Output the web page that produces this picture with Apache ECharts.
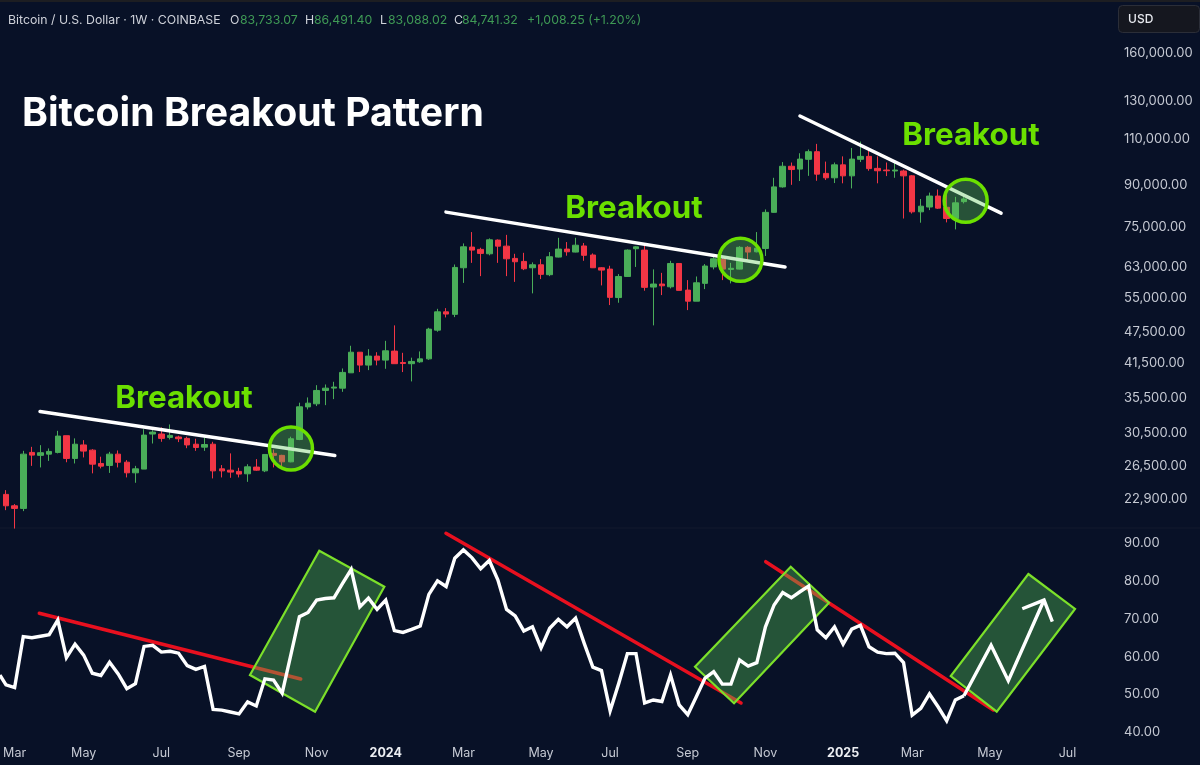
<!DOCTYPE html>
<html>
<head>
<meta charset="utf-8">
<title>Bitcoin Breakout Pattern</title>
<script src="https://cdn.jsdelivr.net/npm/echarts@6/dist/echarts.min.js"></script>
<style>
html, body { margin: 0; padding: 0; background: #081127; }
#chart { width: 1200px; height: 765px; }
</style>
</head>
<body>
<div id="chart"></div>
<script>
// weekly candles, one row per week: open, close, low, high
var candles = [
[23386,22252,21834,23823],[22252,22000,20150,22418],[22000,27870,21740,28275],[28080,27750,26480,28770],
[27720,28040,26300,28980],[27870,28200,27060,28570],[28080,30150,27960,30850],[30200,27350,26900,30200],
[27350,29100,26760,29850],[29010,28240,27470,29620],[28360,26680,25630,28480],[26760,26450,26190,27560],
[26530,27870,25680,28150],[27870,26900,26300,28320],[26910,25690,25180,27150],[25690,26140,24600,26480],
[26110,30280,26110,31070],[30420,30680,29190,30940],[30420,29850,29410,31310],[29980,30240,29710,31720],
[30030,29800,29370,30200],[29850,29010,28600,30070],[29100,28690,28270,29800],[28730,29060,28270,29980],
[29100,25910,25070,29410],[26140,25910,25180,26570],[25990,25770,25140,27960],[25850,25550,25180,26260],
[25580,26370,24700,26670],[26340,25990,25910,27270],[25910,27830,25770,27870],[27960,27720,26300,28440],
[27720,26950,26300,27790],[26950,29800,26900,30070],[29710,34250,29620,34870],[34240,34800,33860,35680],
[34700,36780,34360,37640],[36780,37150,34500,37750],[37160,37330,35420,38200],[37150,39790,36560,40480],
[39720,43450,39720,44690],[43450,41080,39850,43450],[41080,42720,40190,44030],[42720,41980,41030,43450],
[41980,43720,40420,45660],[43660,41330,41330,48840],[41550,41370,39850,43340],[41330,41740,38260,42430],
[41670,42210,41490,43600],[42210,48050,42030,48330],[47840,51810,47500,52490],[51810,51310,50560,52650],
[51240,62870,50630,63680],[62780,68780,58770,69800],[68700,67800,64130,73340],[68010,66830,60530,68500],
[66720,70910,66270,71350],[70820,68980,64130,71040],[68980,65280,60530,72450],[65390,64440,59030,66720],
[64540,62500,62140,67000],[62780,63600,56150,64260],[63600,61000,59750,65190],[60910,65860,60530,67220],
[65770,68100,65680,71530],[68100,67300,66160,70220],[67220,69260,67130,71530],[69030,66280,64710,69940],
[66370,62780,62700,66830],[62780,62140,58130,62930],[62410,55180,53360,63330],[55130,60440,53900,61070],
[60440,67800,60440,68000],[68200,68780,63000,68980],[67800,57640,56800,69800],[57710,58480,48840,62330],
[58480,58030,55730,61400],[57780,63960,57370,64710],[63960,56890,56890,63960],[56950,54270,52200,59490],
[54270,58800,54270,60440],[58650,63250,57200,63790],[63000,65280,62330,66090],[65100,62410,59490,65860],
[62330,62630,58650,64130],[62410,68620,62330,68980],[68620,67220,64910,68980],[67300,68370,67130,73340],
[68260,79920,66090,80950],[79920,89300,79800,92900],[89300,97700,89000,99500],[97700,96300,90100,99300],
[96500,100800,91600,103400],[100700,104100,93700,105100],[104100,94400,91700,107700],[94700,92900,92000,99700],
[92900,98300,90800,99300],[98300,93700,90700,102000],[93700,100800,88700,105800],[100700,102000,99500,108800],
[102000,96700,95800,105100],[96800,95800,90700,102000],[96100,95800,93600,99300],[95700,96100,92900,99300],
[95700,93700,77800,96300],[93700,80100,79500,94000],[80100,82100,76400,84700],[81800,85800,80700,87100],
[85800,81400,81100,88300],[81700,77800,76500,87400],[77800,83300,74200,85500],[83733,84741,83088,86491]
];

// RSI per week, same order as candles
var rsiValues = [
52.5,51.8,65.3,65.0,65.4,65.8,69.7,59.7,63.3,60.4,55.6,55.0,58.5,55.4,51.5,52.8,
62.7,63.0,61.2,61.4,60.9,57.6,56.6,57.4,46.0,45.8,45.3,44.8,48.0,46.9,54.1,53.8,
50.3,60.4,70.6,71.7,75.0,75.4,75.6,79.4,83.1,73.2,75.5,72.5,75.0,66.9,66.4,67.2,
68.1,76.5,80.1,78.6,86.1,88.3,86.2,83.3,85.5,80.3,72.5,70.8,66.8,67.9,62.3,67.5,
69.9,67.9,70.2,63.5,57.2,56.3,45.6,52.9,60.8,60.8,47.7,48.5,48.1,55.1,47.2,44.6,
49.4,54.3,56.0,52.7,52.7,59.1,57.5,58.4,67.9,73.7,77.0,75.6,77.2,78.7,67.1,65.0,
67.9,63.3,67.3,68.3,62.6,61.2,60.8,60.9,58.4,44.5,46.3,50.1,46.7,43.0,48.5,49.6
];

var priceTicks = [160000,130000,110000,90000,75000,63000,55000,47500,41500,35500,30500,26500,22900];
var rsiTicks = [40,50,60,70,80,90];
var dateTickWeeks = [1,9,18,27,36,44,53,62,70,79,88,97,105,114,123];
var dateTickNames = ['Mar','May','Jul','Sep','Nov','2024','Mar','May','Jul','Sep','Nov','2025','Mar','May','Jul'];

// drawn annotations, as [week, price] or [week, rsi]
var priceTrends = [
  [[3.94,33570],[38.1,27710]],
  [[50.98,80000],[90.27,62960]],
  [[92.0,121600],[115.3,79640]]
];
var breakoutCircles = [[33.02,28570],[85.1,65000],[111.2,84050]];
var rsiTrends = [
  [[3.86,71.49],[34.15,54.06]],
  [[50.98,92.71],[85.17,47.69]],
  [[88.03,85.17],[114.4,45.84]]
];
var rsiBoxes = [
  [[36.30,88.09],[43.84,78.54],[35.81,45.38],[28.27,55.12]],
  [[90.93,83.85],[95.36,74.30],[84.36,47.61],[79.84,57.32]],
  [[118.46,81.91],[123.87,72.63],[114.80,45.38],[109.47,54.85]]
];
var rsiProjection = [[111,49.6],[114.14,63.0],[116.14,53.6],[120.28,75.0]];
var arrowHead = [[117.76,72.7],[120.28,75.0],[121.24,69.26]];
var rsiLead = [-0.7,55.1];

var headerItems = [
  {x: 8, label: 'Bitcoin / U.S. Dollar · 1W · COINBASE', green: false},
  {x: 230, label: 'O', green: false},
  {x: 240, label: '83,733.07', green: true},
  {x: 305, label: 'H', green: false},
  {x: 314, label: '86,491.40', green: true},
  {x: 380, label: 'L', green: false},
  {x: 388, label: '83,088.02', green: true},
  {x: 454, label: 'C', green: false},
  {x: 462, label: '84,741.32', green: true},
  {x: 527, label: '+1,008.25 (+1.20%)', green: true}
];
var breakoutLabels = [[184,399],[634,209],[971,136]];

var weekMin = -0.695, weekMax = 128.85;
var FONT = 'Inter';
var upColor = '#4aad59', downColor = '#f23645', limeColor = '#6be000';

var myChart = echarts.init(document.getElementById('chart'));

var candleData = candles.map(function (c, i) { return [i, c[0], c[1], c[2], c[3]]; });
var rsiData = [rsiLead].concat(rsiValues.map(function (v, i) { return [i, v]; }));

var graphics = [
  {type: 'rect', shape: {x: 0, y: 0, width: 1200, height: 2}, style: {fill: '#1d1e22'}},
  {type: 'rect', shape: {x: 0, y: 527.5, width: 1200, height: 1}, style: {fill: '#121a2e'}},
  {type: 'rect', shape: {x: 1118.5, y: 5.5, width: 81, height: 27, r: 4}, style: {fill: '#15171f', stroke: '#2b2e38', lineWidth: 1}},
  {type: 'text', x: 1128, y: 19, style: {text: 'USD', fill: '#e6e8ee', font: '500 12px ' + FONT, textVerticalAlign: 'middle'}},
  {type: 'text', x: 22, y: 114.5, style: {text: 'Bitcoin Breakout Pattern', fill: '#ffffff', font: '700 39.2px ' + FONT, textVerticalAlign: 'middle'}}
];
headerItems.forEach(function (h) {
  graphics.push({type: 'text', x: h.x, y: 20, style: {text: h.label, fill: h.green ? '#3f9a55' : '#cfd2da', font: '400 12.3px ' + FONT, textVerticalAlign: 'middle'}});
});
breakoutLabels.forEach(function (b) {
  graphics.push({type: 'text', x: b[0], y: b[1], style: {text: 'Breakout', fill: limeColor, font: '700 31.3px ' + FONT, textAlign: 'center', textVerticalAlign: 'middle'}});
});

var series = [{
  type: 'candlestick',
  xAxisIndex: 0,
  yAxisIndex: 0,
  data: candleData,
  barWidth: 6,
  encode: {x: 0, y: [1, 2, 3, 4]},
  itemStyle: {color: upColor, color0: downColor, borderColor: upColor, borderColor0: downColor, borderWidth: 1},
  z: 2
}];
priceTrends.forEach(function (t) {
  series.push({type: 'line', xAxisIndex: 0, yAxisIndex: 0, data: t, symbol: 'none', lineStyle: {color: '#ffffff', width: 3.5, cap: 'round'}, z: 3});
});
series.push({
  type: 'scatter', xAxisIndex: 0, yAxisIndex: 0, data: breakoutCircles, symbol: 'circle', symbolSize: 43,
  itemStyle: {color: 'rgba(95,200,90,0.36)', borderColor: limeColor, borderWidth: 3.5, opacity: 1}, z: 4
});
rsiTrends.forEach(function (t) {
  series.push({type: 'line', xAxisIndex: 1, yAxisIndex: 1, data: t, symbol: 'none', lineStyle: {color: '#e8101f', width: 3.5, cap: 'round'}, z: 2});
});
series.push({
  type: 'custom', xAxisIndex: 1, yAxisIndex: 1, clip: false, z: 3,
  data: rsiBoxes.map(function (b, i) { return [b[0][0], b[0][1], i]; }),
  renderItem: function (params, api) {
    var box = rsiBoxes[api.value(2)];
    return {
      type: 'polygon',
      shape: {points: box.map(function (p) { return api.coord(p); })},
      style: {fill: 'rgba(88,195,85,0.38)', stroke: '#7ce02a', lineWidth: 2.2}
    };
  }
});
[rsiData, rsiProjection, arrowHead].forEach(function (d) {
  series.push({type: 'line', xAxisIndex: 1, yAxisIndex: 1, data: d, symbol: 'none', lineStyle: {color: '#ffffff', width: 3.4, join: 'miter'}, z: 4});
});

var option = {
  animation: false,
  backgroundColor: '#081127',
  textStyle: {fontFamily: FONT},
  graphic: {elements: graphics},
  grid: [
    {left: 0, right: 82, top: 0, height: 528},
    {left: 0, right: 82, top: 528, height: 212}
  ],
  xAxis: [
    {type: 'value', gridIndex: 0, min: weekMin, max: weekMax, show: false, splitLine: {show: false}},
    {
      type: 'value', gridIndex: 1, min: weekMin, max: weekMax,
      axisLine: {show: false}, axisTick: {show: false}, splitLine: {show: false},
      axisLabel: {
        customValues: dateTickWeeks,
        margin: 7,
        color: '#c5c9d3',
        fontSize: 12.5,
        fontFamily: FONT,
        formatter: function (v) {
          var name = dateTickNames[dateTickWeeks.indexOf(v)];
          return /^\d+$/.test(name) ? '{y|' + name + '}' : name;
        },
        rich: {y: {color: '#eceef2', fontWeight: 700, fontSize: 12.5, fontFamily: FONT}}
      }
    }
  ],
  yAxis: [
    {
      type: 'log', logBase: 10, gridIndex: 0, position: 'right', min: 20200, max: 201600,
      axisLine: {show: false}, axisTick: {show: false}, splitLine: {show: false},
      axisLabel: {
        customValues: priceTicks,
        margin: 6,
        color: '#c5c9d3',
        fontSize: 13,
        fontFamily: FONT,
        formatter: function (v) {
          return Math.round(v).toLocaleString('en-US') + '.00';
        }
      }
    },
    {
      type: 'value', gridIndex: 1, position: 'right', min: 37.88, max: 94.11,
      axisLine: {show: false}, axisTick: {show: false}, splitLine: {show: false},
      axisLabel: {
        customValues: rsiTicks,
        margin: 6,
        color: '#c5c9d3',
        fontSize: 13,
        fontFamily: FONT,
        formatter: function (v) { return v.toFixed(2); }
      }
    }
  ],
  series: series
};
myChart.setOption(option);
</script>
</body>
</html>
